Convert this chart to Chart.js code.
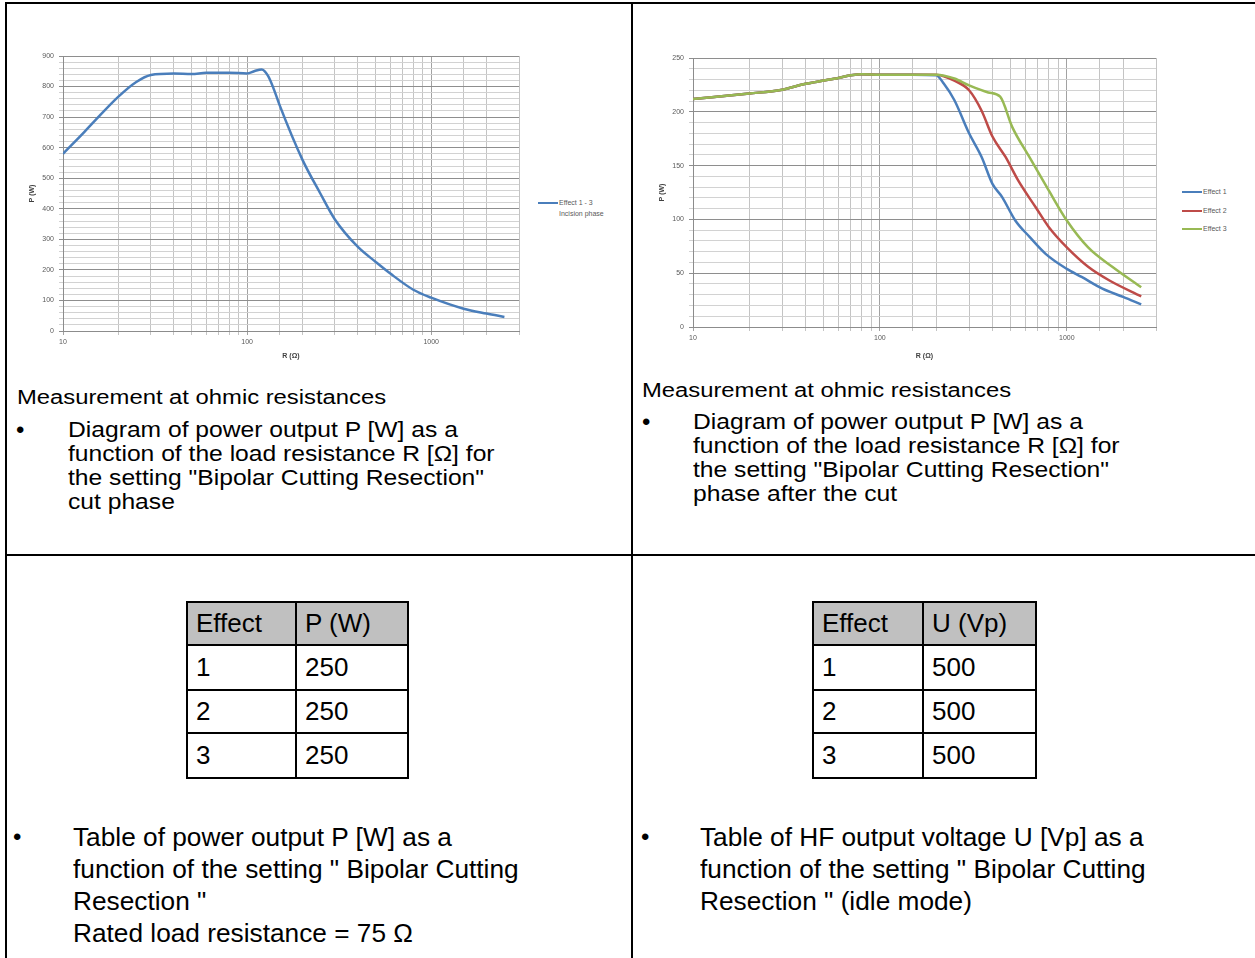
<!DOCTYPE html>
<html>
<head>
<meta charset="utf-8">
<script src="https://cdn.jsdelivr.net/npm/chart.js@4.4.1/dist/chart.umd.min.js"></script>
<style>
  body { margin: 0; width: 1255px; height: 958px; overflow: hidden; background: #fff; position: relative; font-family: "Liberation Sans", Arial, sans-serif; color: #000; }
  .rule { position: absolute; background: #000; }
  .chart { position: absolute; }
  .txt { position: absolute; white-space: nowrap; transform-origin: left top; }
  .meas { font-size: 20px; line-height: 24px; transform: scaleX(1.19); }
  .top-txt { font-size: 22px; line-height: 24px; transform: scaleX(1.12); }
  .bot-txt { font-size: 25px; line-height: 32px; transform: scaleX(1.05); }
  .dot { position: absolute; font-size: 24px; line-height: 24px; }
  .legend { position: absolute; font-size: 7px; color: #595959; line-height: 11px; }
  .legend .sw { position: absolute; width: 20px; height: 2px; left: 0; }
  .legend .lbl { position: absolute; left: 21px; white-space: nowrap; }
  table.vals { position: absolute; border-collapse: collapse; font-size: 26px; }
  table.vals td { border: 2px solid #000; padding: 0 0 0 8px; box-sizing: border-box; }
  table.vals tr.head td { background: #c0c0c0; }
</style>
</head>
<body>

<!-- cell borders -->
<div class="rule" style="left:5px; top:2px; width:1250px; height:2px;"></div>
<div class="rule" style="left:5px; top:2px; width:2px; height:956px;"></div>
<div class="rule" style="left:631px; top:2px; width:2px; height:956px;"></div>
<div class="rule" style="left:5px; top:554px; width:1250px; height:2px;"></div>

<canvas id="chart-cut" class="chart" width="510" height="330" style="left:20px; top:40px;"></canvas>
<canvas id="chart-after" class="chart" width="517" height="330" style="left:650px; top:40px;"></canvas>

<div class="legend" style="left:538px; top:197px;">
  <div class="sw" style="top:5px; background:#4a7ebb;"></div>
  <div class="lbl" style="top:0;">Effect 1 - 3</div>
  <div class="lbl" style="top:11px;">Incision phase</div>
</div>
<div class="legend" style="left:1182px; top:186px;">
  <div class="sw" style="top:5px; background:#4a7ebb;"></div>
  <div class="lbl" style="top:0;">Effect 1</div>
  <div class="sw" style="top:24px; background:#be4b48;"></div>
  <div class="lbl" style="top:19px;">Effect 2</div>
  <div class="sw" style="top:42px; background:#98b954;"></div>
  <div class="lbl" style="top:37px;">Effect 3</div>
</div>

<!-- top left text -->
<div class="txt meas" style="left:17px; top:385px;">Measurement at ohmic resistances</div>
<div class="dot" style="left:16px; top:418px;">•</div>
<div class="txt top-txt" style="left:68px; top:418px;">Diagram of power output P [W] as a<br>function of the load resistance R [Ω] for<br>the setting "Bipolar Cutting Resection"<br>cut phase</div>

<!-- top right text -->
<div class="txt meas" style="left:642px; top:378px;">Measurement at ohmic resistances</div>
<div class="dot" style="left:642px; top:410px;">•</div>
<div class="txt top-txt" style="left:693px; top:410px;">Diagram of power output P [W] as a<br>function of the load resistance R [Ω] for<br>the setting "Bipolar Cutting Resection"<br>phase after the cut</div>

<!-- bottom tables -->
<table class="vals" id="tbl-power" style="left:186px; top:601px;"></table>
<table class="vals" id="tbl-volt" style="left:812px; top:601px;"></table>

<div class="dot" style="left:13px; top:825px;">•</div>
<div class="txt bot-txt" style="left:73px; top:821px;">Table of power output P [W] as a<br>function of the setting " Bipolar Cutting<br>Resection "<br>Rated load resistance = 75 Ω</div>

<div class="dot" style="left:641px; top:825px;">•</div>
<div class="txt bot-txt" style="left:700px; top:821px;">Table of HF output voltage U [Vp] as a<br>function of the setting " Bipolar Cutting<br>Resection " (idle mode)</div>

<script>
// cut phase (left chart), Effect 1 - 3
const rCut = [10, 13, 15, 20, 25, 30, 40, 50, 60, 80, 100, 110, 120, 130, 140, 150, 200, 250, 300, 400, 500, 600, 800, 1000, 1500, 2000, 2500];
const pCut = [580, 650, 690, 767, 815, 838, 843, 841, 845, 845, 843, 851, 856, 835, 790, 740, 560, 450, 365, 275, 226, 188, 135, 109, 73, 57, 46];

// phase after the cut (right chart)
const rEffect1 = [10, 20, 30, 40, 50, 60, 70, 80, 100, 150, 200, 220, 250, 300, 350, 400, 450, 530, 630, 770, 1000, 1200, 1550, 2000, 2500];
const pEffect1 = [212, 217, 220.5, 226, 229, 231.5, 234, 235, 234.5, 234.5, 234, 226, 211, 180, 158, 133, 121, 99, 84, 68, 54, 46.5, 35.6, 28, 21];
const rEffect2 = [10, 20, 30, 40, 50, 60, 70, 80, 100, 150, 200, 250, 300, 350, 400, 470, 550, 680, 800, 1000, 1300, 1700, 2500];
const pEffect2 = [212, 217, 220.5, 226, 229, 231.5, 234, 235, 234.5, 234.5, 234.5, 229, 220, 201, 177, 158, 136, 111.5, 93, 74, 56, 43, 28.5];
const rEffect3 = [10, 20, 30, 40, 50, 60, 70, 80, 100, 150, 200, 250, 300, 380, 440, 510, 630, 800, 1000, 1300, 1750, 2500];
const pEffect3 = [212, 217, 220.5, 226, 229, 231.5, 234, 235, 234.5, 234.5, 234.5, 231, 224.5, 218, 214, 186, 158, 127, 99, 74, 56, 37];

// tables
const effects = ["1", "2", "3"];
const powerW = ["250", "250", "250"];
const voltVp = ["500", "500", "500"];

Chart.defaults.font.family = '"Liberation Sans", Arial, sans-serif';
Chart.defaults.color = "#595959";

const pts = (xs, ys) => xs.map((x, i) => ({ x, y: ys[i] }));
const isDecade = (v) => Math.abs(Math.log10(v) - Math.round(Math.log10(v))) < 1e-6;

const lineSet = (label, xs, ys, color) => ({
    label,
    data: pts(xs, ys),
    borderColor: color,
    borderWidth: 2.5,
    pointRadius: 0,
    fill: false,
    cubicInterpolationMode: "monotone",
});

const makeOptions = (yMax, yMinor, yMajor, axisW, axisH, pad) => ({
    responsive: false,
    animation: false,
    devicePixelRatio: 1,
    layout: { padding: pad },
    plugins: { legend: { display: false }, tooltip: { enabled: false } },
    scales: {
        x: {
            type: "logarithmic",
            min: 10,
            max: 3000,
            afterFit: (s) => { s.height = axisH; },
            grid: {
                color: (c) => (c.tick && isDecade(c.tick.value) ? "#a2a2a2" : "#c4c4c4"),
                tickLength: 4,
            },
            border: { color: "#8c8c8c" },
            ticks: {
                autoSkip: false,
                maxRotation: 0,
                padding: 3,
                font: { size: 7 },
                callback: (v) => (isDecade(v) ? String(v) : ""),
            },
            title: { display: true, text: "R (Ω)", font: { size: 7, weight: "bold" }, color: "#404040", padding: { top: 3, bottom: 10 } },
        },
        y: {
            min: 0,
            max: yMax,
            afterFit: (s) => { s.width = axisW; },
            grid: {
                color: (c) => (c.tick && c.tick.value % yMajor === 0 ? "#8e8e8e" : "#d2d2d2"),
                tickLength: 4,
            },
            border: { color: "#8c8c8c" },
            ticks: {
                stepSize: yMinor,
                maxTicksLimit: 200,
                autoSkip: false,
                padding: 5,
                font: { size: 7 },
                callback: (v) => (v % yMajor === 0 ? String(v) : ""),
            },
            title: { display: true, text: "P (W)", font: { size: 7, weight: "bold" }, color: "#404040", padding: { top: 8, bottom: 0 } },
        },
    },
});

new Chart(document.getElementById("chart-cut"), {
    type: "line",
    data: { datasets: [lineSet("Effect 1 - 3 Incision phase", rCut, pCut, "#4a7ebb")] },
    options: makeOptions(900, 20, 100, 43, 39, { top: 16, right: 11 }),
});

new Chart(document.getElementById("chart-after"), {
    type: "line",
    data: {
        datasets: [
            lineSet("Effect 3", rEffect3, pEffect3, "#98b954"),
            lineSet("Effect 2", rEffect2, pEffect2, "#be4b48"),
            lineSet("Effect 1", rEffect1, pEffect1, "#4a7ebb"),
        ],
    },
    options: makeOptions(250, 10, 50, 43, 43, { top: 18, right: 11 }),
});

const fillTable = (id, head, values) => {
    const tbl = document.getElementById(id);
    const rows = [head].concat(effects.map((e, i) => [e, values[i]]));
    rows.forEach((row, i) => {
        const tr = document.createElement("tr");
        if (i === 0) tr.className = "head";
        tr.innerHTML = `<td style="width:${id === "tbl-power" ? 109 : 110}px; height:${i % 2 ? 45 : 43}px">${row[0]}</td>
                        <td style="width:${id === "tbl-power" ? 112 : 113}px">${row[1]}</td>`;
        tbl.appendChild(tr);
    });
};

fillTable("tbl-power", ["Effect", "P (W)"], powerW);
fillTable("tbl-volt", ["Effect", "U (Vp)"], voltVp);
</script>
</body>
</html>
